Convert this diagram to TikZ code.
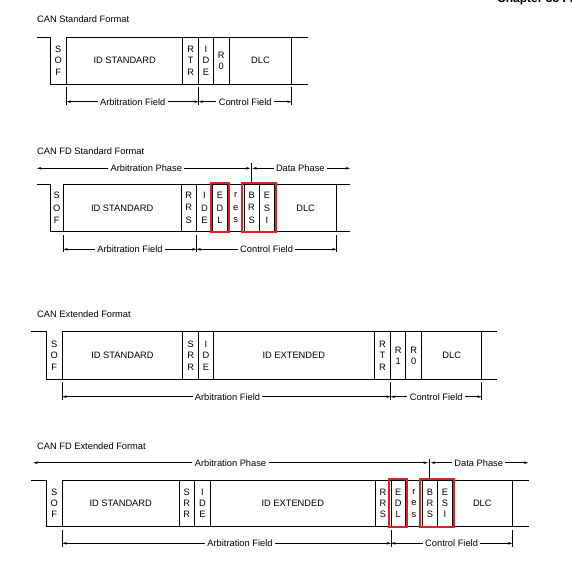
\documentclass[tikz,border=0pt]{standalone}
\usepackage{fontspec}
\setmainfont{Liberation Sans}
\usetikzlibrary{arrows.meta}
\definecolor{boxred}{RGB}{228,30,36}
\begin{document}
\begin{tikzpicture}[x=1pt,y=-1pt,
  wave/.style={line width=0.9pt,line cap=rect},
  tickline/.style={line width=0.9pt},
  redbox/.style={draw=boxred,line width=1.9pt},
  txt/.style={font=\fontsize{9.3}{11.3}\selectfont,inner sep=0pt},
  title/.style={txt,anchor=base west},
  stackA/.style={txt,align=center,font=\fontsize{9.3}{11.3}\selectfont},
  stackB/.style={txt,align=center,font=\fontsize{9.3}{12.5}\selectfont},
  dimlbl/.style={txt,inner xsep=2.2pt},
  dim/.style={line width=0.6pt,-{Stealth[length=4.5pt,width=2.6pt]}}]
\useasboundingbox (0,0) rectangle (572,560);

% cut-off page header
\node[title,font=\bfseries\fontsize{12}{14}\selectfont] (hdr) at (497,2.6) {Chapter 35 FlexCAN};

% ================= CAN Standard Format =================
\node[title] (t1) at (37,22.7) {CAN Standard Format};
\draw[wave] (37,37.5) -- (50,37.5) -- (50,84) -- (308,84);
\draw[wave] (66.7,37.5) -- (308,37.5);
\foreach \x in {66.7,182.7,198.7,213.3,229.3,291.7}
  \draw[wave] (\x,37.5) -- (\x,84);
\node[stackA] (s1sof) at (58.3,60.75) {S\\O\\F};
\node[txt] (s1id) at (124.7,60.75) {ID STANDARD};
\node[stackA] (s1rtr) at (190.7,60.75) {R\\T\\R};
\node[stackA] (s1ide) at (206,60.75) {I\\D\\E};
\node[stackA] (s1r0) at (221.3,60.75) {R\\0};
\node[txt] (s1dlc) at (260.5,60.75) {DLC};
\foreach \x in {66.7,198.7,291.7}
  \draw[tickline] (\x,87) -- (\x,105);
\coordinate (s1a) at (66.7,101.7);
\coordinate (s1b) at (198.7,101.7);
\coordinate (s1c) at (291.7,101.7);
\node[dimlbl] (s1af) at (132.7,101.7) {Arbitration Field};
\node[dimlbl] (s1cf) at (245.2,101.7) {Control Field};
\draw[dim] (s1af) -- (s1a);
\draw[dim] (s1af) -- (s1b);
\draw[dim] (s1cf) -- (s1b);
\draw[dim] (s1cf) -- (s1c);

% ================= CAN FD Standard Format =================
\node[title] (t2) at (37,154) {CAN FD Standard Format};
\coordinate (s2pl) at (37,168.3);
\coordinate (s2pd) at (250.3,168.3);
\coordinate (s2pe) at (252.3,168.3);
\coordinate (s2pr) at (350,168.3);
\node[dimlbl] (s2ap) at (146.3,168.3) {Arbitration Phase};
\node[dimlbl] (s2dp) at (300.3,168.3) {Data Phase};
\draw[dim] (s2ap) -- (s2pl);
\draw[dim] (s2ap) -- (s2pd);
\draw[dim] (s2dp) -- (s2pe);
\draw[dim] (s2dp) -- (s2pr);
\draw[wave] (251.3,163.3) -- (251.3,183);
\draw[wave] (37,184) -- (50,184) -- (50,231.7) -- (350,231.7);
\draw[wave] (63.3,184) -- (350,184);
\foreach \x in {63.3,181,196.5,212.5,227.5,244,259.3,274.5,336.7}
  \draw[wave] (\x,184) -- (\x,231.7);
\node[stackB] (s2sof) at (56.7,207.8) {S\\O\\F};
\node[txt] (s2id) at (122.2,207.8) {ID STANDARD};
\node[stackB] (s2rrs) at (188.75,207.8) {R\\R\\S};
\node[stackB] (s2ide) at (204.5,207.8) {I\\D\\E};
\node[stackB] (s2edl) at (220,207.8) {E\\D\\L};
\node[stackB] (s2res) at (235.75,207.8) {r\\e\\s};
\node[stackB] (s2brs) at (251.6,207.8) {B\\R\\S};
\node[stackB] (s2esi) at (266.9,207.8) {E\\S\\I};
\node[txt] (s2dlc) at (305.6,207.8) {DLC};
\draw[redbox] (210.6,183.3) rectangle (229.4,232.4);
\draw[redbox] (242.1,183.3) rectangle (276.4,232.4);
\foreach \x in {63.3,196.5,336.7}
  \draw[tickline] (\x,234.7) -- (\x,252);
\coordinate (s2a) at (63.3,249.3);
\coordinate (s2b) at (196.5,249.3);
\coordinate (s2c) at (336.7,249.3);
\node[dimlbl] (s2af) at (130,249.3) {Arbitration Field};
\node[dimlbl] (s2cf) at (266.6,249.3) {Control Field};
\draw[dim] (s2af) -- (s2a);
\draw[dim] (s2af) -- (s2b);
\draw[dim] (s2cf) -- (s2b);
\draw[dim] (s2cf) -- (s2c);

% ================= CAN Extended Format =================
\node[title] (t3) at (37,317.3) {CAN Extended Format};
\draw[wave] (31.7,331.7) -- (46,331.7) -- (46,379.3) -- (496.7,379.3);
\draw[wave] (62.3,331.7) -- (496.7,331.7);
\foreach \x in {62.3,182.7,198.7,213.3,374.3,390.7,405.7,421.7,481.7}
  \draw[wave] (\x,331.7) -- (\x,379.3);
\node[stackA] (s3sof) at (54.2,355.5) {S\\O\\F};
\node[txt] (s3id) at (122.5,355.5) {ID STANDARD};
\node[stackA] (s3srr) at (190.7,355.5) {S\\R\\R};
\node[stackA] (s3ide) at (206,355.5) {I\\D\\E};
\node[txt] (s3ext) at (293.8,355.5) {ID EXTENDED};
\node[stackA] (s3rtr) at (382.5,355.5) {R\\T\\R};
\node[stackA] (s3r1) at (398.2,355.5) {R\\1};
\node[stackA] (s3r0) at (413.7,355.5) {R\\0};
\node[txt] (s3dlc) at (451.7,355.5) {DLC};
\foreach \x in {62.3,390.7,481.7}
  \draw[tickline] (\x,382) -- (\x,400);
\coordinate (s3a) at (62.3,396.7);
\coordinate (s3b) at (390.7,396.7);
\coordinate (s3c) at (481.7,396.7);
\node[dimlbl] (s3af) at (227.5,396.7) {Arbitration Field};
\node[dimlbl] (s3cf) at (436.2,396.7) {Control Field};
\draw[dim] (s3af) -- (s3a);
\draw[dim] (s3af) -- (s3b);
\draw[dim] (s3cf) -- (s3b);
\draw[dim] (s3cf) -- (s3c);

% ================= CAN FD Extended Format =================
\node[title] (t4) at (37,449.3) {CAN FD Extended Format};
\coordinate (s4pl) at (33.3,462.7);
\coordinate (s4pd) at (427.8,462.7);
\coordinate (s4pe) at (430.8,462.7);
\coordinate (s4pr) at (528.3,462.7);
\node[dimlbl] (s4ap) at (230.5,462.7) {Arbitration Phase};
\node[dimlbl] (s4dp) at (478.7,462.7) {Data Phase};
\draw[dim] (s4ap) -- (s4pl);
\draw[dim] (s4ap) -- (s4pd);
\draw[dim] (s4dp) -- (s4pe);
\draw[dim] (s4dp) -- (s4pr);
\draw[wave] (429.3,459) -- (429.3,479);
\draw[wave] (31.7,480) -- (46,480) -- (46,526.7) -- (528.3,526.7);
\draw[wave] (62.3,480) -- (528.3,480);
\foreach \x in {62.3,179,194.3,210.7,375,391,405.5,422.3,437.5,452.3,512.3}
  \draw[wave] (\x,480) -- (\x,526.7);
\node[stackA] (s4sof) at (54.2,503.3) {S\\O\\F};
\node[txt] (s4id) at (120.7,503.3) {ID STANDARD};
\node[stackA] (s4srr) at (186.7,503.3) {S\\R\\R};
\node[stackA] (s4ide) at (202.5,503.3) {I\\D\\E};
\node[txt] (s4ext) at (292.8,503.3) {ID EXTENDED};
\node[stackA] (s4rrs) at (383,503.3) {R\\R\\S};
\node[stackA] (s4edl) at (398.2,503.3) {E\\D\\L};
\node[stackA] (s4res) at (413.9,503.3) {r\\e\\s};
\node[stackA] (s4brs) at (429.9,503.3) {B\\R\\S};
\node[stackA] (s4esi) at (444.9,503.3) {E\\S\\I};
\node[txt] (s4dlc) at (482.3,503.3) {DLC};
\draw[redbox] (389.1,479.3) rectangle (407.4,527.4);
\draw[redbox] (420.4,479.3) rectangle (454.2,527.4);
\foreach \x in {62.3,391,512.3}
  \draw[tickline] (\x,529.5) -- (\x,547);
\coordinate (s4a) at (62.3,543.3);
\coordinate (s4b) at (391,543.3);
\coordinate (s4c) at (512.3,543.3);
\node[dimlbl] (s4af) at (240,543.3) {Arbitration Field};
\node[dimlbl] (s4cf) at (451.6,543.3) {Control Field};
\draw[dim] (s4af) -- (s4a);
\draw[dim] (s4af) -- (s4b);
\draw[dim] (s4cf) -- (s4b);
\draw[dim] (s4cf) -- (s4c);
\end{tikzpicture}
\end{document}
